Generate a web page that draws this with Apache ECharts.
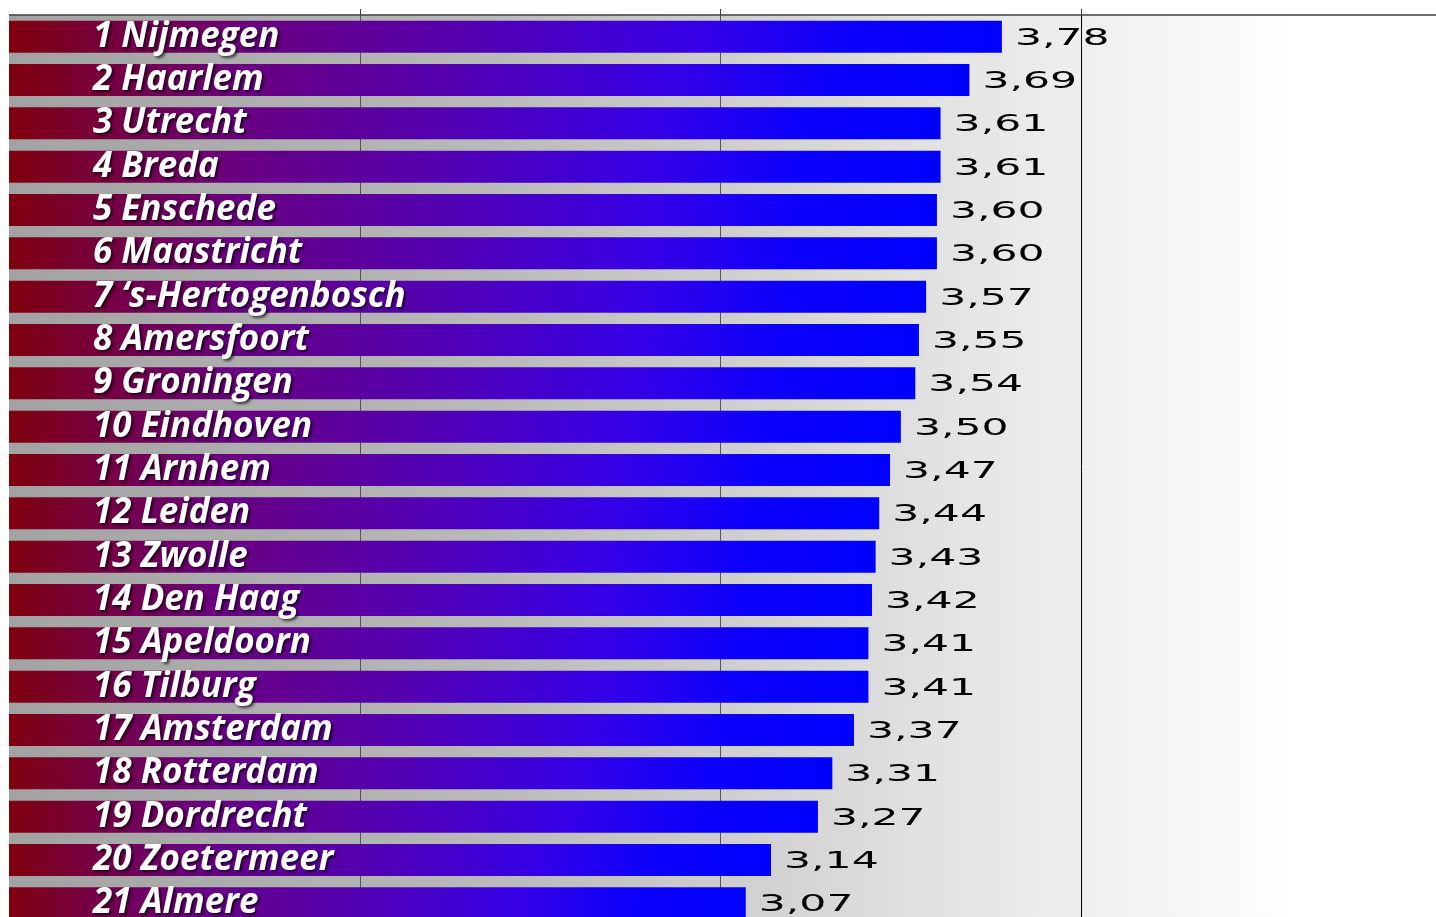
<!DOCTYPE html>
<html>
<head>
<meta charset="utf-8">
<title>Ranking steden</title>
<script src="https://cdn.jsdelivr.net/npm/echarts@6/dist/echarts.min.js"></script>
<style>
  html, body { margin: 0; padding: 0; background: #fff; }
  #chart { width: 1436px; height: 917px; }
</style>
</head>
<body>
<div id="chart"></div>
<script>
// ranking, top to bottom
const cities = [
  "1 Nijmegen", "2 Haarlem", "3 Utrecht", "4 Breda", "5 Enschede",
  "6 Maastricht", "7 \u2018s-Hertogenbosch", "8 Amersfoort", "9 Groningen",
  "10 Eindhoven", "11 Arnhem", "12 Leiden", "13 Zwolle", "14 Den Haag",
  "15 Apeldoorn", "16 Tilburg", "17 Amsterdam", "18 Rotterdam",
  "19 Dordrecht", "20 Zoetermeer", "21 Almere"
];
const scores = [
  3.78, 3.69, 3.61, 3.61, 3.60, 3.60, 3.57, 3.55, 3.54, 3.50,
  3.47, 3.44, 3.43, 3.42, 3.41, 3.41, 3.37, 3.31, 3.27, 3.14, 3.07
];
const gridValues = [2, 3, 4];

const fmt = v => v.toFixed(2).replace(".", ",");

const chart = echarts.init(document.getElementById("chart"));

chart.setOption({
  animation: false,
  grid: {
    left: -1,
    width: 1443,
    top: 15,
    height: 910,
    outerBoundsMode: "none",
    show: true,
    borderWidth: 0,
    backgroundColor: new echarts.graphic.LinearGradient(0, 0, 1, 0, [
      { offset: 0, color: "#a2a2a2" },
      { offset: 0.34, color: "#b9b9b9" },
      { offset: 0.52, color: "#d0d0d0" },
      { offset: 0.65, color: "#e2e2e2" },
      { offset: 0.75, color: "#efefef" },
      { offset: 0.9, color: "#ffffff" },
      { offset: 1, color: "#ffffff" }
    ])
  },
  // white margin on the left edge, as in the original
  graphic: [
    { type: "rect", left: 0, top: 0, z: 100, shape: { width: 9, height: 917 }, style: { fill: "#fff" } }
  ],
  xAxis: {
    type: "value",
    position: "top",
    min: 1,
    max: 5,
    interval: 1,
    axisLabel: { show: false },
    axisLine: { show: true, lineStyle: { color: "#404040", width: 1.5 } },
    axisTick: { show: true, length: 6, customValues: gridValues, lineStyle: { color: "#404040" } },
    splitLine: {
      show: true,
      showMinLine: true,
      showMaxLine: true,
      lineStyle: { color: ["#555", "#555", "#000"], width: 1 }
    }
  },
  yAxis: {
    type: "category",
    inverse: true,
    data: cities,
    axisLabel: { show: false },
    axisLine: { show: false },
    axisTick: { show: false }
  },
  series: [
    {
      type: "bar",
      data: scores,
      barWidth: 32,
      itemStyle: {
        color: new echarts.graphic.LinearGradient(0, 0, 1, 0, [
          { offset: 0, color: "#800008" },
          { offset: 0.25, color: "#6a0080" },
          { offset: 0.5, color: "#5000b8" },
          { offset: 0.7, color: "#3400e8" },
          { offset: 0.85, color: "#0c00fb" },
          { offset: 1, color: "#0000ff" }
        ])
      },
      label: {
        show: true,
        position: [94, "50%"],
        align: "left",
        verticalAlign: "middle",
        formatter: p => cities[p.dataIndex],
        color: "#fff",
        fontFamily: "Open Sans",
        fontWeight: "bold",
        fontStyle: "italic",
        fontSize: 35,
        textShadowColor: "rgba(0,0,0,0.7)",
        textShadowBlur: 3,
        textShadowOffsetX: 2,
        textShadowOffsetY: 2
      }
    },
    {
      // wide score labels next to the bars
      type: "custom",
      clip: false,
      data: scores.map((v, i) => [v, i]),
      renderItem: (params, api) => {
        const p = api.coord([api.value(0), api.value(1)]);
        return {
          type: "text",
          x: p[0] + 13,
          y: p[1] + 2,
          scaleX: 1.85,
          style: {
            text: fmt(api.value(0)),
            font: '23px "DejaVu Sans"',
            fill: "#000",
            align: "left",
            verticalAlign: "middle"
          }
        };
      }
    }
  ]
});
</script>
</body>
</html>
